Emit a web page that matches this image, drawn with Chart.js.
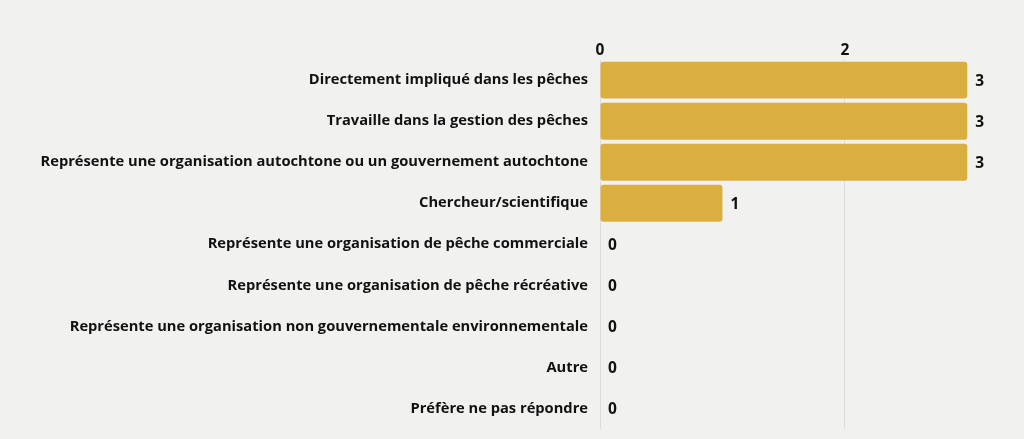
<!DOCTYPE html>
<html>
<head>
<meta charset="utf-8">
<script src="https://cdn.jsdelivr.net/npm/chart.js@4"></script>
<style>
  html, body { margin: 0; padding: 0; background: #f1f1f0; overflow: hidden; }
  canvas { display: block; }
</style>
</head>
<body>
<canvas id="chart" width="1024" height="439"></canvas>
<script>
// Catégories et valeurs
const categories = [
  "Directement impliqué dans les pêches",
  "Travaille dans la gestion des pêches",
  "Représente une organisation autochtone ou un gouvernement autochtone",
  "Chercheur/scientifique",
  "Représente une organisation de pêche commerciale",
  "Représente une organisation de pêche récréative",
  "Représente une organisation non gouvernementale environnementale",
  "Autre",
  "Préfère ne pas répondre"
]
const values = [3, 3, 3, 1, 0, 0, 0, 0, 0]
const tickValues = [0, 2]

const fontFamily = "'Open Sans', 'Noto Sans', sans-serif"

// Étiquettes de valeur à droite des barres
const valueLabels = {
  id: "valueLabels",
  afterDatasetsDraw(chart) {
    const ctx = chart.ctx
    const meta = chart.getDatasetMeta(0)
    ctx.save()
    ctx.font = "bold 15.5px " + fontFamily
    ctx.fillStyle = "#111"
    ctx.textBaseline = "middle"
    meta.data.forEach((bar, i) => {
      ctx.fillText(String(values[i]), bar.x + 8, bar.y + 1)
    })
    ctx.restore()
  }
}

new Chart(document.getElementById("chart"), {
  type: "bar",
  data: {
    labels: categories,
    datasets: [{
      data: values,
      backgroundColor: "#dbaf3f",
      borderRadius: 3,
      borderSkipped: false,
      categoryPercentage: 1,
      barPercentage: 0.9
    }]
  },
  options: {
    indexAxis: "y",
    responsive: false,
    animation: false,
    layout: { padding: { top: 41, right: 20, bottom: 10, left: 0 } },
    plugins: { legend: { display: false }, tooltip: { enabled: false } },
    scales: {
      x: {
        position: "top",
        min: 0,
        max: 3.3,
        afterBuildTicks(axis) {
          axis.ticks = tickValues.map((v) => ({ value: v }))
        },
        grid: { color: "#dcdcdc", drawTicks: false },
        border: { display: false },
        ticks: {
          padding: 0,
          color: "#111",
          font: { family: fontFamily, size: 15.5, weight: "bold" }
        }
      },
      y: {
        afterFit(scale) {
          scale.width = 600
          scale.paddingTop = 0
          scale.paddingBottom = 0
        },
        grid: { display: false },
        border: { display: false },
        ticks: {
          padding: 4,
          color: "#111",
          font: { family: fontFamily, size: 14.7, weight: "bold" }
        }
      }
    }
  },
  plugins: [valueLabels]
})
</script>
</body>
</html>
